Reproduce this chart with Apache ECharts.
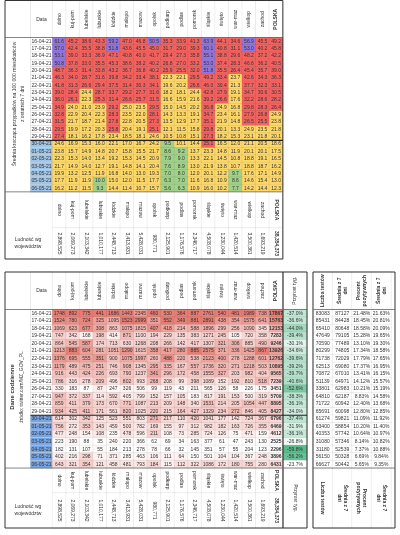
<!DOCTYPE html>
<html><head><meta charset="utf-8">
<script src="https://cdn.jsdelivr.net/npm/echarts@6/dist/echarts.min.js"></script>
<style>html,body{margin:0;padding:0;background:#fff}#c{width:400px;height:535px}</style>
</head><body><div id="c"></div>
<script>
// ---------------- DATA ----------------
const regions = ['dolno','kuj-pom','lubelskie','lubuskie','łódzkie','małopo','mazow','opolsk','podkarp','podlas','pomorsk','śląskie','święto','war-maz','wielkop','zachod','POLSKA'];
const population = ['2,898,525','2,069,273','2,103,342','1,010,177','2,448,713','3,413,931','5,428,031','980,771','2,125,901','1,176,576','2,346,717','4,508,078','1,230,044','1,420,514','3,500,361','1,693,219','38,354,373'];
const dates = ['16-04-21','17-04-21','18-04-21','19-04-21','20-04-21','21-04-21','22-04-21','23-04-21','24-04-21','25-04-21','26-04-21','27-04-21','28-04-21','29-04-21','30-04-21','01-05-21','02-05-21','03-05-21','04-05-21','05-05-21','06-05-21'];
const avg100k = [
[61.6,45.2,38.6,43.3,59.2,47.0,46.8,50.5,35.3,33.9,41.3,63.9,44.1,34.6,56.9,45.5,49.2],
[57.0,42.4,35.5,38.8,51.8,43.6,45.5,45.0,31.7,29.0,39.3,60.1,40.8,31.1,53.0,40.2,45.8],
[53.1,39.0,33.3,36.9,47.1,40.8,40.0,41.7,29.4,27.3,35.8,55.1,38.8,29.6,48.2,37.2,42.2],
[50.8,37.8,33.0,35.5,45.3,38.6,38.2,40.2,26.8,27.0,33.2,53.0,37.4,28.3,46.6,36.2,40.5],
[48.7,36.3,31.4,33.8,43.2,36.7,36.8,40.2,25.9,25.5,32.0,51.8,35.5,26.4,45.4,35.7,39.0],
[46.3,34.0,28.7,31.6,39.8,34.2,33.4,38.1,22.3,22.1,29.5,49.2,33.4,23.7,42.6,34.3,36.3],
[41.8,31.3,26.6,29.4,37.5,31.4,30.3,34.1,19.6,20.2,26.6,46.0,30.4,21.3,37.7,32.3,33.1],
[39.0,28.4,24.4,28.7,33.7,29.2,27.7,31.6,18.2,18.1,24.4,42.8,27.9,19.1,34.7,30.6,30.5],
[36.0,26.1,22.3,25.3,31.4,26.6,25.7,31.5,16.6,15.9,21.6,39.2,26.6,17.6,32.2,28.6,28.2],
[34.9,24.0,21.0,23.9,29.2,25.0,23.5,29.5,15.0,14.5,20.2,36.8,24.9,16.8,29.8,28.3,26.4],
[32.8,22.9,20.4,22.3,28.3,23.5,22.0,28.1,14.3,13.3,19.1,34.7,23.4,16.1,27.9,26.8,24.9],
[31.5,21.7,18.7,21.4,27.8,22.8,20.5,27.3,13.5,12.9,17.7,35.1,21.9,14.8,26.5,25.5,23.8],
[29.5,19.9,17.2,20.3,25.8,20.4,19.1,25.1,12.1,11.5,15.8,29.8,20.1,13.3,24.9,23.5,21.8],
[27.4,18.1,16.2,17.8,23.4,18.5,18.1,24.6,10.5,10.8,15.1,27.3,18.2,15.3,23.1,21.8,20.1],
[24.6,16.9,15.3,16.0,22.1,17.0,16.7,24.2,9.5,10.1,14.4,25.1,16.5,12.0,21.1,20.5,18.6],
[23.8,15.7,14.9,14.8,20.7,15.8,15.5,21.7,8.6,9.2,13.7,23.3,14.8,11.9,20.1,20.1,17.5],
[22.3,15.3,14.0,13.4,19.2,15.3,14.5,20.9,7.9,9.0,13.3,22.1,14.5,10.8,18.8,19.1,16.5],
[21.7,14.9,14.0,12.7,19.1,14.8,14.1,20.4,7.6,8.9,13.0,21.9,13.8,10.7,18.8,18.7,16.2],
[19.9,13.2,12.5,11.9,16.8,14.0,13.0,19.3,7.0,8.0,12.0,20.1,12.2,9.7,17.6,17.1,14.9],
[17.7,11.9,11.9,10.0,15.0,12.0,11.5,17.7,6.3,7.0,11.6,16.8,10.9,8.6,14.6,15.4,13.0],
[16.2,11.2,11.5,9.3,14.4,11.4,10.7,15.7,5.6,6.3,10.9,16.0,10.2,7.7,14.2,14.4,12.3]
];
const daily = [
[1748,892,775,441,1686,1443,2345,460,530,364,887,2761,540,481,1989,738,17867],
[1524,780,724,325,1095,1523,2999,351,552,349,881,2891,438,354,1575,641,15763],
[1069,623,677,308,863,1075,1815,407,418,214,588,1896,299,256,1090,345,12153],
[747,342,168,198,414,871,1100,194,229,135,383,1271,245,105,720,358,7283],
[864,545,587,174,713,630,1268,208,266,142,417,1307,321,306,885,490,9246],
[1213,883,604,281,1051,1290,1615,358,417,280,885,2575,371,336,1425,867,13926],
[1376,695,555,351,900,1075,1997,260,488,220,538,2123,400,278,1288,601,12762],
[1179,489,475,251,746,908,1345,295,335,167,557,1736,320,271,1218,503,10895],
[916,443,424,226,693,790,1237,341,296,172,458,1555,327,203,982,404,9565],
[786,316,278,209,496,802,993,268,208,99,398,1089,152,192,810,518,7239],
[330,183,87,87,247,326,506,99,119,43,211,565,126,58,226,175,3451],
[947,372,337,114,592,405,799,152,157,105,183,817,191,153,500,319,5709],
[859,411,379,173,670,771,1087,213,209,148,340,1531,214,205,1054,447,8895],
[934,425,411,171,561,820,1025,220,215,164,427,1329,234,272,846,405,8427],
[614,302,342,125,523,551,803,271,217,110,420,1041,177,142,724,367,6796],
[756,272,353,143,459,500,782,169,155,97,312,982,182,163,726,355,6469],
[477,248,154,108,235,478,596,211,108,73,285,724,126,75,471,159,4612],
[223,190,88,35,240,220,366,62,69,34,163,377,61,47,243,130,2525],
[182,131,107,55,184,213,278,78,66,32,145,351,57,55,204,123,2296],
[402,216,298,71,371,285,463,106,111,64,150,501,104,104,367,248,3896],
[643,321,354,121,458,481,793,184,115,112,322,1086,172,180,755,280,6431]
];
const weeklyGrowth = [-37.0,-36.6,-44.0,-39.4,-30.1,-34.6,-39.6,-39.2,-39.7,-40.6,-52.6,-38.3,-36.1,-34.0,-37.4,-31.9,-36.1,-26.8,-59.8,-56.2,-23.7];
const tests = [83083,85431,65410,47649,70590,80299,71738,62513,70872,51139,33801,64810,71722,65691,61274,63400,40353,31080,31180,56150,66627];
const testsAvg7 = [87127,84428,80648,79105,77489,74805,72029,69080,67010,64971,62983,62187,60942,60098,59821,58854,57742,57346,52539,50328,50442];
const positivePct = [21.48,18.45,18.58,15.28,13.10,17.34,17.79,17.37,13.41,14.12,10.21,8.83,12.40,12.80,11.09,10.20,10.64,8.14,7.37,6.69,5.65];
const positivePctAvg7 = [21.63,20.81,20.09,19.65,19.30,18.58,17.65,16.95,16.15,15.57,15.19,14.58,13.68,12.85,11.92,11.40,10.97,10.82,10.88,9.84,9.35];
const testHeaders = ['Liczba testów','Średnia z 7\ndni','Procent\npozytywnych','Średnia z 7\ndni'];

// ---------------- LAYOUT ----------------
const FONT = 'Liberation Sans';
const CW = 13.55, X0 = 52.5, NC = regions.length, TW = CW * NC;
const NR = dates.length;
const T_HEAD = 1, T_TOP = 37.5, T_ROW = 7.35, T_BOT = T_TOP + T_ROW * NR, T_POP = 228, T_END = 259;
const B_HEAD = 272, B_TOP = 309.5, B_ROW = 7.55, B_BOT = B_TOP + B_ROW * NR, B_POP = 493, B_END = 528;
const P_X = 283, P_W = 24, S_X = 313, S_W = 78;
const cellBorder = {borderColor: 'rgba(0,0,0,0.10)', borderWidth: 0.6};

const grids = [], xAxis = [], yAxis = [], series = [], visualMap = [];
function grid(left, top, width, height, nx, yData, yLabel) {
  const i = grids.length;
  grids.push({left, top, width, height, containLabel: false, outerBoundsMode: 'none'});
  xAxis.push({type: 'category', gridIndex: i, data: [...Array(nx).keys()], show: false});
  yAxis.push({type: 'category', gridIndex: i, inverse: true, data: yData,
    axisLine: {show: false}, axisTick: {show: false}, splitLine: {show: false},
    axisLabel: yLabel || {show: false}});
  return i;
}
function heat(gi, data, label, itemStyle) {
  series.push({type: 'heatmap', xAxisIndex: gi, yAxisIndex: gi, data,
    label: Object.assign({show: true, fontSize: 5, color: '#333', fontFamily: FONT, lineHeight: 6}, label),
    itemStyle: Object.assign({}, cellBorder, itemStyle || {}),
    emphasis: {disabled: true}, silent: true, animation: false});
  return series.length - 1;
}
function boxLabel(h, blue) {
  const base = {width: 22, height: h, align: 'center', verticalAlign: 'middle', borderColor: '#d4d4d4', borderWidth: 0.5,
    fontSize: 5, color: '#333', fontFamily: FONT};
  return {show: true, margin: 0, interval: 0,
    formatter: (v, idx) => (blue && idx >= 14 ? '{b|' : '{w|') + v + '}',
    rich: {w: Object.assign({}, base, {backgroundColor: '#fff'}), b: Object.assign({}, base, {backgroundColor: blue || '#fff'})}};
}
const colIdx = [...Array(NC).keys()];
const bold = i => i === NC - 1 ? 'bold' : 'normal';

// ---- top table ----
let g = grid(X0, T_HEAD, TW, T_TOP - T_HEAD, NC, ['Data'], boxLabel(T_TOP - T_HEAD));
heat(g, colIdx.map(i => ({value: [i, 0, 0], label: {fontWeight: bold(i)}})),
  {rotate: 90, formatter: p => regions[p.value[0]]}, {color: '#fff'});

g = grid(X0, T_TOP, TW, T_BOT - T_TOP, NC, dates, boxLabel(T_ROW, '#9fc5e8'));
const topData = [];
avg100k.forEach((row, r) => row.forEach((v, c) => topData.push([c, r, v])));
let s = heat(g, topData, {formatter: p => p.value[2].toFixed(1)});
visualMap.push({type: 'piecewise', show: false, seriesIndex: s, dimension: 2, pieces: [
  {lte: 10, color: '#9fd189'}, {gt: 10, lte: 25, color: '#fdd767'},
  {gt: 25, lte: 50, color: '#f3625f'}, {gt: 50, color: '#9275dc'}]});

g = grid(X0, T_BOT, TW, T_POP - T_BOT, NC, [' ']);
heat(g, colIdx.map(i => ({value: [i, 0, 0], label: {fontWeight: bold(i)}})),
  {rotate: -90, formatter: p => regions[p.value[0]]}, {color: '#fff'});
g = grid(X0, T_POP, TW, T_END - T_POP, NC, [' ']);
heat(g, colIdx.map(i => ({value: [i, 0, 0], label: {fontWeight: bold(i)}})),
  {rotate: -90, formatter: p => population[p.value[0]]}, {color: '#fff'});

// ---- bottom table ----
g = grid(X0, B_HEAD, TW, B_TOP - B_HEAD, NC, ['Data'], boxLabel(B_TOP - B_HEAD));
heat(g, colIdx.map(i => ({value: [i, 0, 0], label: {fontWeight: bold(i)}})),
  {rotate: 90, formatter: p => regions[p.value[0]]}, {color: '#fff'});

g = grid(X0, B_TOP, TW, B_BOT - B_TOP, NC, dates, boxLabel(B_ROW, '#76a5e5'));
const colMax = colIdx.map(c => Math.max(...daily.map(r => r[c])));
const colMin = colIdx.map(c => Math.min(...daily.map(r => r[c])));
const botData = [];
daily.forEach((row, r) => row.forEach((v, c) => botData.push({
  value: [c, r, (v - colMin[c]) / (colMax[c] - colMin[c])], label: {fontWeight: bold(c)}})));
s = heat(g, botData, {formatter: p => String(daily[p.value[1]][p.value[0]])});
visualMap.push({type: 'continuous', show: false, seriesIndex: s, dimension: 2, min: 0, max: 1,
  inRange: {color: ['#ffffff', '#e67c73']}});

g = grid(X0, B_BOT, TW, B_POP - B_BOT, NC, [' ']);
heat(g, colIdx.map(i => ({value: [i, 0, 0], label: {fontWeight: bold(i)}})),
  {rotate: -90, formatter: p => regions[p.value[0]]}, {color: '#fff'});
g = grid(X0, B_POP, TW, B_END - B_POP, NC, [' ']);
heat(g, colIdx.map(i => ({value: [i, 0, 0], label: {fontWeight: bold(i)}})),
  {rotate: -90, formatter: p => population[p.value[0]]}, {color: '#fff'});

// ---- weekly growth column ----
g = grid(P_X, B_HEAD, P_W, B_TOP - B_HEAD, 1, [' ']);
heat(g, [[0, 0, 0]], {rotate: 90, formatter: () => 'Przyrost tyg.'}, {color: '#fff'});
g = grid(P_X, B_TOP, P_W, B_BOT - B_TOP, 1, dates);
s = heat(g, weeklyGrowth.map((v, r) => [0, r, v]), {formatter: p => p.value[2].toFixed(1) + '%'});
visualMap.push({type: 'continuous', show: false, seriesIndex: s, dimension: 2,
  min: Math.min(...weeklyGrowth), max: Math.max(...weeklyGrowth), inRange: {color: ['#57bb8a', '#ffffff']}});
g = grid(P_X, B_BOT, P_W, B_END - B_BOT, 1, [' ']);
heat(g, [[0, 0, 0]], {rotate: -90, formatter: () => 'Przyrost tyg.'}, {color: '#fff'});

// ---- tests table ----
g = grid(S_X, B_HEAD, S_W, B_TOP - B_HEAD, 4, [' ']);
heat(g, [0, 1, 2, 3].map(i => [i, 0, 0]), {rotate: 90, fontWeight: 'bold', formatter: p => testHeaders[p.value[0]]}, {color: '#fff'});
g = grid(S_X, B_TOP, S_W, B_BOT - B_TOP, 4, dates);
const sideData = [];
dates.forEach((d, r) => [0, 1, 2, 3].forEach(c => sideData.push([c, r, 0])));
const sideFmt = (c, r) => c === 0 ? String(tests[r]) : c === 1 ? String(testsAvg7[r]) :
  c === 2 ? positivePct[r].toFixed(2) + '%' : positivePctAvg7[r].toFixed(2) + '%';
heat(g, sideData, {formatter: p => sideFmt(p.value[0], p.value[1])}, {color: '#fff'});
g = grid(S_X, B_BOT, S_W, B_END - B_BOT, 4, [' ']);
heat(g, [0, 1, 2, 3].map(i => [i, 0, 0]), {rotate: -90, fontWeight: 'bold', formatter: p => testHeaders[p.value[0]]}, {color: '#fff'});

// ---------------- FRAMES & TEXT ----------------
const gr = [];
function rect(x, y, w, h, stroke, lw) { gr.push({type: 'rect', z: 100, silent: true, shape: {x, y, width: w, height: h}, style: {fill: 'none', stroke, lineWidth: lw}}); }
function line(x1, y1, x2, y2, stroke, lw) { gr.push({type: 'line', z: 100, silent: true, shape: {x1, y1, x2, y2}, style: {stroke, lineWidth: lw}}); }
function text(x, y, t, rot, opts) { gr.push({type: 'text', z: 100, silent: true, x, y, rotation: rot,
  style: Object.assign({text: t, fontSize: 5, fontFamily: FONT, fill: '#333', align: 'center', verticalAlign: 'middle', lineHeight: 7}, opts || {})}); }
const R = X0 + TW;
// top table
rect(5, 0.5, R - 5, T_END - 0.5, '#333', 1);
line(5, T_TOP, R, T_TOP, '#666', 0.8);
line(5, T_BOT, R, T_BOT, '#666', 0.8);
line(30.5, T_TOP + 14 * T_ROW, R, T_TOP + 14 * T_ROW, '#222', 1.1);
text(19, 104, 'Średnia krocząca przypadków na 100 000 mieszkańców\nz ostatnich 7 dni', Math.PI / 2, {lineHeight: 8});
text(28, 243, 'Ludność wg\nwojewództw', 0);
// bottom table
rect(5, B_HEAD, P_X + P_W - 5, B_END - B_HEAD, '#333', 1);
line(P_X, B_HEAD, P_X, B_END, '#333', 1.2);
line(5, B_TOP, P_X + P_W, B_TOP, '#666', 0.8);
line(5, B_BOT, P_X + P_W, B_BOT, '#666', 0.8);
line(30.5, B_TOP + 14 * B_ROW, P_X + P_W, B_TOP + 14 * B_ROW, '#222', 1.1);
text(12, 387, 'Dane codzienne', Math.PI / 2, {fontSize: 6, fontWeight: 'bold'});
text(22, 387, 'źródło: twitter.com/MZ_GOV_PL', Math.PI / 2, {fontSize: 5});
text(28, 510, 'Ludność wg\nwojewództw', 0);
// tests table
rect(S_X, B_HEAD, 395 - S_X, B_END - B_HEAD, '#333', 1);
line(S_X, B_TOP, 395, B_TOP, '#666', 0.8);
line(S_X, B_BOT, 395, B_BOT, '#666', 0.8);

const chart = echarts.init(document.getElementById('c'));
chart.setOption({
  animation: false,
  backgroundColor: '#fff',
  textStyle: {fontFamily: FONT},
  grid: grids, xAxis, yAxis, series, visualMap, graphic: {elements: gr}
});
</script></body></html>
